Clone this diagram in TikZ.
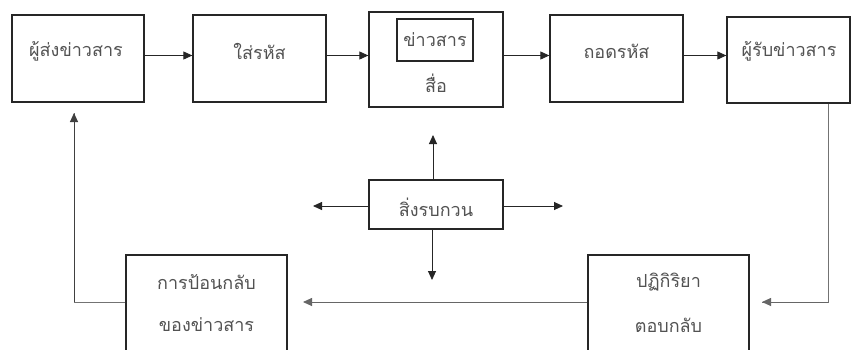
\documentclass[tikz,border=0pt]{standalone}
\usepackage{fontspec}
\newfontfamily\thai[Script=Thai]{Loma}
\usetikzlibrary{arrows.meta}
\begin{document}
\begin{tikzpicture}[x=1pt,y=-1pt,
  box/.style={draw=black!85,line width=1.3pt,inner sep=0pt,fill=white},
  txt/.style={font=\thai\fontsize{18}{20}\selectfont,text=black!68,inner sep=0pt},
  arr/.style={draw=black!85,line width=0.9pt,-{Triangle[length=9pt,width=8pt]}},
  ln/.style={draw=black!55,line width=0.9pt}]
\useasboundingbox (0,0) rectangle (852,349);
\clip (0,0) rectangle (852,349);
\fill[white] (0,0) rectangle (852,349);
% top row
\node[box,minimum width=132pt,minimum height=87pt] (b1) at (78,58.5) {};
\node[box,minimum width=133pt,minimum height=87pt] (b2) at (259.5,58.5) {};
\node[box,minimum width=134pt,minimum height=95pt] (b3) at (436,59.5) {};
\node[box,minimum width=76pt,minimum height=42pt] (b3i) at (435,40) {};
\node[box,minimum width=133pt,minimum height=87pt] (b4) at (616.5,58.5) {};
\node[box,minimum width=123pt,minimum height=86pt] (b5) at (788.5,60) {};
% middle / bottom
\node[box,minimum width=134pt,minimum height=49pt] (noise) at (436,204.5) {};
\node[box,minimum width=161pt,minimum height=105pt] (fb) at (206.5,307.5) {};
\node[box,minimum width=161pt,minimum height=105pt] (react) at (668.5,307.5) {};
% texts
\node[txt] (t1) at (76,51) {ผู้ส่งข่าวสาร};
\node[txt] (t2) at (259.5,51) {ใส่รหัส};
\node[txt] (t3a) at (435,40) {ข่าวสาร};
\node[txt] (t3b) at (436,83) {สื่อ};
\node[txt] (t4) at (616.5,51) {ถอดรหัส};
\node[txt] (t5) at (789,51) {ผู้รับข่าวสาร};
\node[txt] (tn) at (436,207) {สิ่งรบกวน};
\node[txt] (tf1) at (206.5,282) {การป้อนกลับ};
\node[txt] (tf2) at (206.5,325) {ของข่าวสาร};
\node[txt] (tr1) at (668.5,282) {ปฏิกิริยา};
\node[txt] (tr2) at (668.5,325) {ตอบกลับ};
% top arrows
\draw[arr] ([yshift=3pt]b1.east) -- ([yshift=3pt]b1.east -| b2.west);
\draw[arr] ([yshift=3pt]b2.east) -- ([yshift=3pt]b2.east -| b3.west);
\draw[arr] ([yshift=3pt]b4.west -| b3.east) -- ([yshift=3pt]b4.west);
\draw[arr] ([yshift=3pt]b4.east) -- ([yshift=3pt]b4.east -| b5.west);
% loop
\coordinate (r1) at (828,302);
\coordinate (ra) at (762,302);
\coordinate (fa) at (303,302);
\coordinate (l1) at (74,302);
\coordinate (l2) at (74,113);
\draw[ln] (b5.south -| r1) -- (r1) -- (ra);
\draw[arr,draw=black!60] (r1) -- (ra);
\draw[arr,draw=black!60] (react.west |- fa) -- (fa);
\draw[ln] (fb.west |- l1) -- (l1) -- (l2);
\draw[arr,draw=black!75] (l1) -- (l2);
% noise arrows
\coordinate (nU) at (433,135);
\coordinate (nL) at (313,206);
\coordinate (nR) at (563,206);
\coordinate (nD) at (432,280);
\draw[arr] (noise.north -| nU) -- (nU);
\draw[arr] (noise.west |- nL) -- (nL);
\draw[arr] (noise.east |- nR) -- (nR);
\draw[arr] (noise.south -| nD) -- (nD);
\end{tikzpicture}
\end{document}
